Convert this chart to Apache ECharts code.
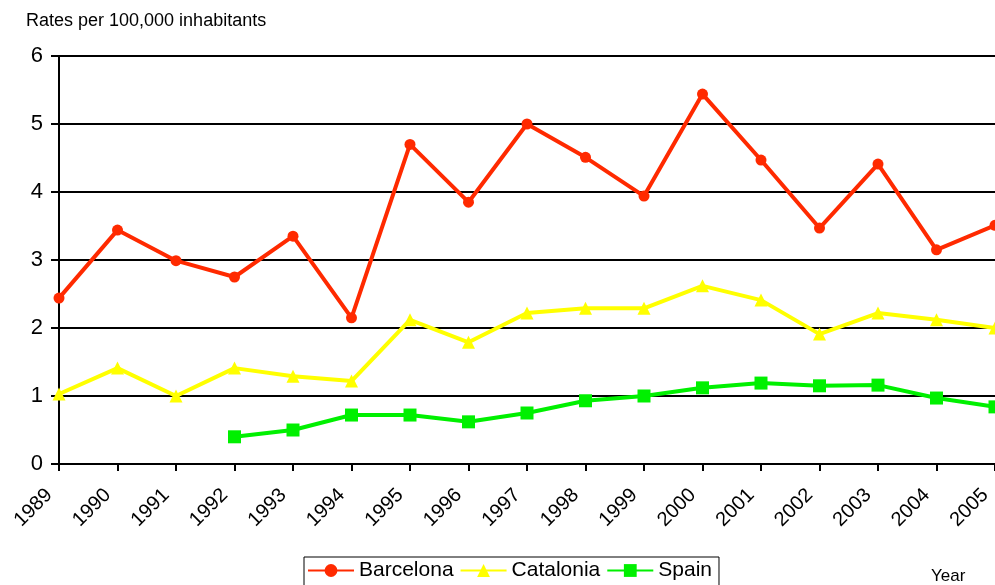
<!DOCTYPE html>
<html><head><meta charset="utf-8">
<script src="https://cdn.jsdelivr.net/npm/echarts@6/dist/echarts.min.js"></script>
<style>html,body{margin:0;padding:0;background:#fff}#c{width:995px;height:585px}</style>
</head><body><div id="c"></div>
<script>
const years = ['1989','1990','1991','1992','1993','1994','1995','1996','1997','1998','1999','2000','2001','2002','2003','2004','2005'];
const barcelona = [2.44,3.44,2.99,2.75,3.35,2.15,4.70,3.85,5.00,4.51,3.94,5.44,4.47,3.47,4.41,3.15,3.51];
const catalonia = [1.03,1.41,1.00,1.41,1.29,1.22,2.12,1.79,2.22,2.29,2.29,2.62,2.41,1.91,2.22,2.12,2.00];
const spain = [null,null,null,0.40,0.50,0.72,0.72,0.62,0.75,0.93,1.00,1.12,1.19,1.15,1.16,0.97,0.84];
const yTicks = [0,1,2,3,4,5,6];

const chart = echarts.init(document.getElementById('c'), null, {renderer:'canvas'});
const font = 'Arial, "Liberation Sans", sans-serif';
chart.setOption({
  animation:false,
  backgroundColor:'#fff',
  grid:{left:59,right:0,top:56,bottom:121,containLabel:false,outerBoundsMode:'none'},
  graphic:[
    {type:'text',left:26,top:12,style:{text:'Rates per 100,000 inhabitants',font:'18px '+font,fill:'#000'}},
    {type:'text',left:931,top:568,style:{text:'Year',font:'17px '+font,fill:'#000'}}
  ],
  legend:{
    top:557,left:304,itemGap:6,itemWidth:46,itemHeight:16,
    borderColor:'#000',borderWidth:1,padding:[3,7,8,3],
    textStyle:{fontSize:21,fontFamily:font,color:'#000'},
    data:['Barcelona','Catalonia','Spain']
  },
  xAxis:{
    type:'category',data:years,boundaryGap:false,
    axisLine:{lineStyle:{color:'#000',width:2}},
    axisTick:{show:true,alignWithLabel:true,length:7,lineStyle:{color:'#000',width:2}},
    axisLabel:{rotate:45,fontSize:20,fontFamily:font,color:'#000',margin:18,interval:0,padding:[0,14,0,0]},
    splitLine:{show:false}
  },
  yAxis:{
    type:'value',min:0,max:6,interval:1,
    axisLine:{show:true,lineStyle:{color:'#000',width:2}},
    axisTick:{show:true,length:8,lineStyle:{color:'#000',width:2}},
    axisLabel:{fontSize:22,fontFamily:font,color:'#000',margin:16,
      formatter:v=>yTicks.includes(v)?String(v):''},
    splitLine:{show:true,lineStyle:{color:'#000',width:2}}
  },
  series:[
    {name:'Barcelona',type:'line',data:barcelona,symbol:'circle',symbolSize:11,
      lineStyle:{color:'#ff2a00',width:4},itemStyle:{color:'#ff2a00'}},
    {name:'Catalonia',type:'line',data:catalonia,symbol:'triangle',symbolSize:13,
      lineStyle:{color:'#ffff00',width:4},itemStyle:{color:'#ffff00'}},
    {name:'Spain',type:'line',data:spain,symbol:'rect',symbolSize:13,
      lineStyle:{color:'#00f000',width:4},itemStyle:{color:'#00f000'}}
  ]
});
</script></body></html>
